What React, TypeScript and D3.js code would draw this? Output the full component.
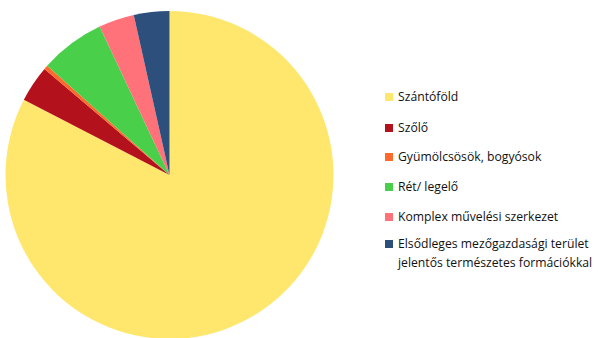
import React from "react";
import * as d3 from "d3";

const categories = [
  "Szántóföld",
  "Szőlő",
  "Gyümölcsösök, bogyósok",
  "Rét/ legelő",
  "Komplex művelési szerkezet",
  "Elsődleges mezőgazdasági terület jelentős természetes formációkkal",
];
const legendLines = [
  ["Szántóföld"],
  ["Szőlő"],
  ["Gyümölcsösök, bogyósok"],
  ["Rét/ legelő"],
  ["Komplex művelési szerkezet"],
  ["Elsődleges mezőgazdasági terület", "jelentős természetes formációkkal"],
];
const values = [82.6, 3.6, 0.4, 6.4, 3.5, 3.5];
const colors = ["#FFE76E", "#B3121C", "#FF6A2B", "#4ACF4B", "#FF727A", "#2C4F7B"];
const legendY = [97, 128, 157, 187, 217, 244];

export default function App() {
  const W = 598, H = 338;
  const cx = 169.5, cy = 175, r = 164;
  const pie = d3.pie<number>().sort(null).value((d) => d)(values);
  const arc = d3.arc<d3.PieArcDatum<number>>().innerRadius(0).outerRadius(r);
  return (
    <svg width={W} height={H} style={{ position: "absolute", left: 0, top: 0, background: "#fff" }}>
      <g transform={`translate(${cx},${cy})`}>
        {pie.map((p, i) => (
          <path key={i} d={arc(p) || ""} fill={colors[i]} />
        ))}
      </g>
      <g fontFamily="'Open Sans', sans-serif" fontSize={12.2} fontWeight={500} fill="#111">
        {categories.map((c, i) => (
          <g key={c}>
            <rect x={385} y={legendY[i] - 4} width={8} height={8} fill={colors[i]} />
            {legendLines[i].map((t, j) => (
              <text key={j} x={398} y={legendY[i] + j * 18.5} dy="0.35em">
                {t}
              </text>
            ))}
          </g>
        ))}
      </g>
    </svg>
  );
}
